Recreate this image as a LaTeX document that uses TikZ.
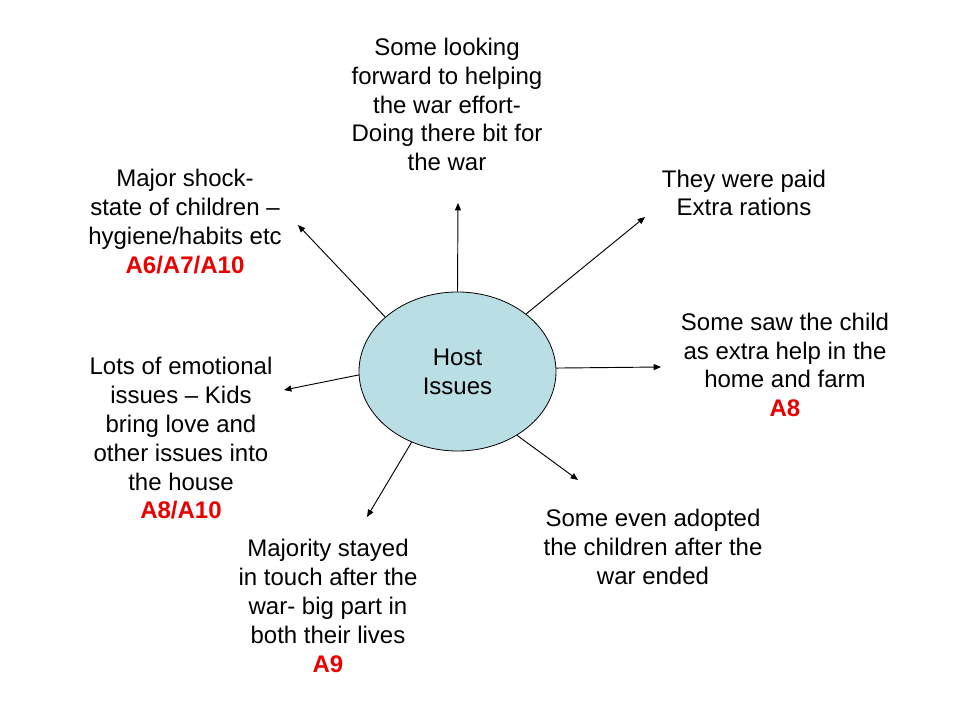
\documentclass[tikz,border=0pt]{standalone}
\usepackage{fontspec}
\setmainfont{Liberation Sans}
\usetikzlibrary{shapes.geometric,arrows.meta}
\definecolor{hostfill}{RGB}{185,222,228}
\definecolor{refred}{RGB}{235,0,0}
\newcommand{\refcode}[1]{\textcolor{refred}{\textbf{#1}}}
\begin{document}
\begin{tikzpicture}[x=0.75pt,y=-0.75pt,
  lbl/.style={align=center,inner sep=0pt,font=\fontsize{18}{21.6}\selectfont},
  hub/.style={ellipse,draw=black,line width=0.6pt,fill=hostfill,minimum width=147.75pt,minimum height=119.25pt,inner sep=0pt,align=center,font=\fontsize{18}{21.6}\selectfont},
  conn/.style={draw=black,line width=0.7pt,-{Triangle[length=5.5pt,width=4.5pt]}}]
\useasboundingbox[fill=white] (0,0) rectangle (960,720);

\node[hub] (host) at (457.5,371.5) {Host\\Issues};

\node[lbl] (top) at (447,104.5) {Some looking\\forward to helping\\the war effort-\\Doing there bit for\\the war};
\node[lbl] (ur) at (744,193) {They were paid\\Extra rations};
\node[lbl] (ul) at (185,221.5) {Major shock-\\state of children --\\hygiene/habits etc\\\refcode{A6/A7/A10}};
\node[lbl] (r) at (785,365) {Some saw the child\\as extra help in the\\home and farm\\\refcode{A8}};
\node[lbl] (l) at (181,438.5) {Lots of emotional\\issues -- Kids\\bring love and\\other issues into\\the house\\\refcode{A8/A10}};
\node[lbl] (lr) at (653,547) {Some even adopted\\the children after the\\war ended};
\node[lbl] (ll) at (328,606) {Majority stayed\\in touch after the\\war- big part in\\both their lives\\\refcode{A9}};

\coordinate (tTop) at (458,203);
\coordinate (tUR) at (645,217);
\coordinate (tUL) at (298,225);
\coordinate (tR) at (661,367);
\coordinate (tL) at (284,390);
\coordinate (tLR) at (578,480);
\coordinate (tLL) at (367,517);

\draw[conn] (host.90) -- (tTop);
\draw[conn] (host.40) -- (tUR);
\draw[conn] (host.143) -- (tUL);
\draw[conn] (host.2.6) -- (tR);
\draw[conn] (host.182.6) -- (tL);
\draw[conn] (host.313) -- (tLR);
\draw[conn] (host.237.5) -- (tLL);
\end{tikzpicture}
\end{document}
